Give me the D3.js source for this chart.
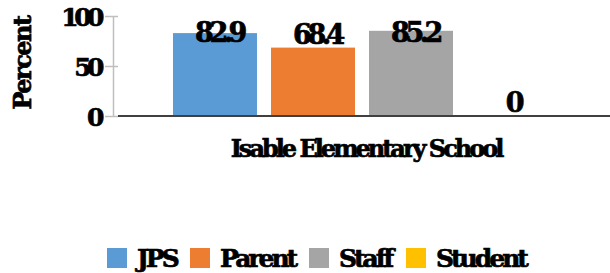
<!DOCTYPE html>
<html lang="en">
<head>
    <meta charset="UTF-8">
    <title>Percent by group</title>
    <script src="https://d3js.org/d3.v7.min.js"></script>
    <style>
        body { margin: 0; background: #fff; }
        svg text {
            font-family: "DejaVu Serif", serif;
            font-weight: bold;
            fill: #000;
            stroke: #000;
            stroke-width: 0.7px;
        }
    </style>
</head>
<body>
    <svg width="610" height="273"></svg>
    <script>
        // chart values
        const categories = ["Isable Elementary School"];
        const series = ["JPS", "Parent", "Staff", "Student"];
        const values = [82.9, 68.4, 85.2, 0];
        const colors = ["#5B9BD5", "#ED7D31", "#A5A5A5", "#FFC000"];
        const yTicks = [0, 50, 100];

        const svg = d3.select("svg");

        // plot box
        const plot = { left: 113, right: 611, top: 16, bottom: 116 };

        const x0 = d3.scaleBand()
            .domain(categories)
            .range([plot.left, plot.right])
            .padding(0);

        const x1 = d3.scaleBand()
            .domain(series)
            .range([0, x0.bandwidth()])
            .paddingInner(0.143)
            .paddingOuter(0.612);

        const y = d3.scaleLinear()
            .domain([0, 100])
            .range([plot.bottom, plot.top]);

        const color = d3.scaleOrdinal().domain(series).range(colors);

        // y axis
        const yAxis = svg.append("g")
            .attr("transform", `translate(${plot.left},0)`)
            .call(d3.axisLeft(y).tickValues(yTicks).tickSize(8).tickSizeOuter(0).tickPadding(5));
        yAxis.select(".domain").attr("stroke", "#BFBFBF").attr("stroke-width", 1.5);
        yAxis.selectAll(".tick line").attr("stroke", "#BFBFBF").attr("stroke-width", 1.5).attr("x2", -8).attr("x1", 5);
        yAxis.selectAll(".tick text")
            .style("font-size", "25px")
            .style("letter-spacing", "-4.5px")
            .attr("dy", "0.36em");

        // bars
        const rows = series.map((s, i) => ({ key: s, value: values[i] }));
        const g = svg.append("g")
            .selectAll("g")
            .data(categories)
            .join("g")
            .attr("transform", d => `translate(${x0(d)},0)`);

        g.selectAll("rect")
            .data(rows)
            .join("rect")
            .attr("x", d => x1(d.key))
            .attr("y", d => y(d.value))
            .attr("width", x1.bandwidth())
            .attr("height", d => y(0) - y(d.value))
            .attr("fill", d => color(d.key));

        // value labels (kept below the top of the plot)
        g.selectAll("text.val")
            .data(rows)
            .join("text")
            .attr("class", "val")
            .attr("x", d => x1(d.key) + x1.bandwidth() / 2 + 4)
            .attr("y", d => Math.max(y(d.value) - 4, plot.top + 26))
            .attr("text-anchor", "middle")
            .style("font-size", "27px")
            .style("letter-spacing", "-4.5px")
            .text(d => d.value === 0 ? "0" : d.value.toFixed(1));

        // baseline
        svg.append("line")
            .attr("x1", plot.left + 5).attr("x2", plot.right)
            .attr("y1", y(0)).attr("y2", y(0))
            .attr("stroke", "#404040").attr("stroke-width", 2);

        // category label
        svg.append("text")
            .attr("x", x0(categories[0]) + x0.bandwidth() / 2 + 4)
            .attr("y", 157)
            .attr("text-anchor", "middle")
            .style("font-size", "24px")
            .style("letter-spacing", "-3px")
            .text(categories[0]);

        // y title
        svg.append("text")
            .attr("transform", `translate(31,63) rotate(-90)`)
            .attr("text-anchor", "middle")
            .style("font-size", "24px")
            .style("letter-spacing", "-1.5px")
            .text("Percent");

        // legend
        const legendX = [107, 190, 309, 406];
        const legend = svg.append("g")
            .selectAll("g")
            .data(series)
            .join("g")
            .attr("transform", (d, i) => `translate(${legendX[i]},248)`);
        legend.append("rect")
            .attr("width", 20).attr("height", 20)
            .attr("fill", d => color(d));
        legend.append("text")
            .attr("x", 30).attr("y", 19)
            .style("font-size", "25px")
            .style("letter-spacing", "-3px")
            .text(d => d);
    </script>
</body>
</html>
